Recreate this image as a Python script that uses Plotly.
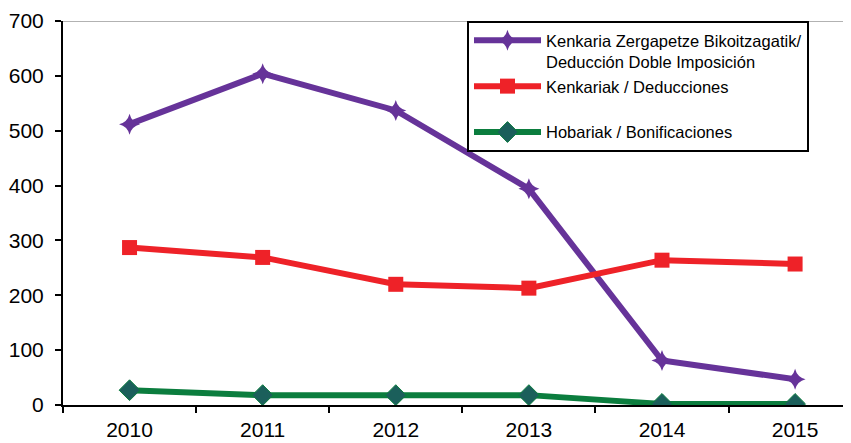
import plotly.graph_objects as go

years = ["2010", "2011", "2012", "2013", "2014", "2015"]
doble_imposicion = [512, 604, 537, 394, 81, 47]
deducciones = [287, 269, 220, 213, 264, 257]
bonificaciones = [27, 18, 18, 18, 2, 2]

name_doble = "Kenkaria Zergapetze Bikoitzagatik/<br>Deducción Doble Imposición"
name_ded = "Kenkariak / Deducciones<br> "
name_bon = "Hobariak / Bonificaciones"

fig = go.Figure()
fig.add_trace(go.Scatter(
    x=years, y=doble_imposicion, name=name_doble, mode="lines+markers",
    line=dict(color="#663399", width=6),
    marker=dict(symbol="star-diamond", size=15, color="#663399"),
))
fig.add_trace(go.Scatter(
    x=years, y=deducciones, name=name_ded, mode="lines+markers",
    line=dict(color="#ee2228", width=6),
    marker=dict(symbol="square", size=15, color="#ee2228"),
))
fig.add_trace(go.Scatter(
    x=years, y=bonificaciones, name=name_bon, mode="lines+markers",
    line=dict(color="#0b7d3e", width=6),
    marker=dict(symbol="diamond", size=16, color="#1b5f5b",
                line=dict(color="#0b7d3e", width=1)),
))

fig.add_shape(type="line", xref="paper", yref="y", x0=0, x1=1, y0=700, y1=700,
              line=dict(color="#999999", width=1.5), layer="below")

fig.update_layout(
    width=843, height=435,
    margin=dict(l=55, r=0, t=13, b=38),
    paper_bgcolor="white", plot_bgcolor="white",
    font=dict(family="Liberation Sans, Arial, sans-serif", color="black"),
    showlegend=True,
    legend=dict(
        x=(467 - 63) / 788, y=1, xanchor="left", yanchor="top",
        bordercolor="black", borderwidth=2, bgcolor="white",
        font=dict(size=16.5, family="Liberation Sans, Arial, sans-serif"),
        valign="top", itemwidth=67, tracegroupgap=0,
    ),
    xaxis=dict(
        type="category", range=[-0.5, 5.42], automargin=False,
        showgrid=False, showline=True, linecolor="black", linewidth=2,
        ticks="outside", tickson="boundaries", ticklen=6, tickcolor="black", tickwidth=1.5,
        tickfont=dict(size=21), ticklabelstandoff=5, ticklabeloverflow="allow",
        zeroline=False,
    ),
    yaxis=dict(
        range=[0, 700], dtick=100, showgrid=False, automargin=False,
        showline=True, linecolor="black", linewidth=2,
        ticks="outside", ticklen=6, tickcolor="black", tickwidth=1.5,
        tickfont=dict(size=21), ticklabelstandoff=7, ticklabeloverflow="allow",
        zeroline=False,
    ),
)

fig.write_html("out.html")
